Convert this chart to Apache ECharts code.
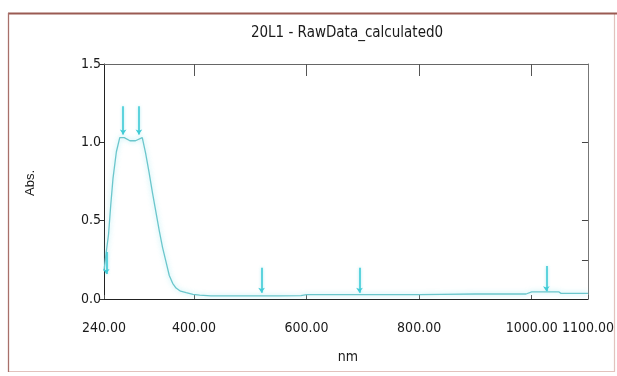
<!DOCTYPE html>
<html>
<head>
<meta charset="utf-8">
<script src="https://cdn.jsdelivr.net/npm/echarts@6/dist/echarts.min.js"></script>
<style>
html,body{margin:0;padding:0;background:#fff;}
#chart{width:617px;height:376px;}
</style>
</head>
<body>
<div id="chart"></div>
<script>
// ---- data ----
const titleText = '20L1 - RawData_calculated0';
const xName = 'nm';
const yName = 'Abs.';
const wavelengths = [240, 244, 248, 252, 256, 262, 268, 276, 286, 296, 308, 314, 320, 326, 333, 338, 344, 350, 356, 362, 368, 376, 386, 398, 410, 430, 450, 500, 550, 590, 600, 700, 800, 840, 900, 990, 1000, 1048, 1052, 1100];
const absorbance  = [0.18, 0.30, 0.41, 0.60, 0.77, 0.94, 1.03, 1.03, 1.01, 1.01, 1.03, 0.93, 0.81, 0.68, 0.54, 0.44, 0.33, 0.24, 0.15, 0.10, 0.07, 0.05, 0.04, 0.03, 0.025, 0.02, 0.02, 0.02, 0.02, 0.022, 0.028, 0.028, 0.028, 0.03, 0.032, 0.032, 0.046, 0.046, 0.036, 0.036];
const xTickValues = [240, 400, 600, 800, 1000, 1100];
const xTopTickValues = [400, 600, 800, 1000];
const yTickValues = [0, 0.5, 1.0, 1.5];
const yRightTickValues = [0.25, 0.5, 1.0];
// peak-pick arrows: wavelength, arrow top, arrow tip
const markerNm     = [244, 274, 302, 520, 694, 1026];
const markerTop    = [0.30, 1.23, 1.23, 0.20, 0.20, 0.21];
const markerBottom = [0.16, 1.05, 1.05, 0.04, 0.04, 0.05];

const FONT = "'Liberation Sans Narrow', 'DejaVu Sans Condensed', 'Liberation Sans', Arial, sans-serif";
const chart = echarts.init(document.getElementById('chart'), null, {renderer: 'canvas'});

const lineData = wavelengths.map((w, i) => [w, absorbance[i]]);
const arrowData = markerNm.map((w, i) => [
  {coord: [w, markerTop[i]]},
  {coord: [w, markerBottom[i]]}
]);

const option = {
  backgroundColor: '#ffffff',
  animation: false,
  grid: {left: 104, right: 25, top: 64, bottom: 77, containLabel: false},
  xAxis: [{
    type: 'value', min: 240, max: 1100,
    axisLine: {show: true, onZero: false, lineStyle: {color: '#222', width: 1}},
    axisTick: {show: true, inside: true, length: 4, lineStyle: {color: '#555'}, customValues: xTickValues},
    axisLabel: {show: true, margin: 22, color: '#1a1a1a', fontFamily: FONT, fontSize: 14,
      customValues: xTickValues, formatter: v => v.toFixed(2)},
    splitLine: {show: false}
  }, {
    type: 'value', min: 240, max: 1100, position: 'top',
    axisLine: {show: true, onZero: false, lineStyle: {color: '#666', width: 1}},
    axisTick: {show: true, inside: true, length: 12, lineStyle: {color: '#555'}, customValues: xTopTickValues},
    axisLabel: {show: false},
    splitLine: {show: false}
  }],
  yAxis: [{
    type: 'value', min: 0, max: 1.5,
    axisLine: {show: true, onZero: false, lineStyle: {color: '#222', width: 1}},
    axisTick: {show: true, inside: false, length: 4, lineStyle: {color: '#333'}, customValues: yTickValues},
    minorTick: {show: false},
    axisLabel: {show: true, margin: 3, color: '#1a1a1a', fontFamily: FONT, fontSize: 14,
      customValues: yTickValues, formatter: v => v.toFixed(1)},
    splitLine: {show: false}
  }, {
    type: 'value', min: 0, max: 1.5, position: 'right',
    axisLine: {show: true, onZero: false, lineStyle: {color: '#777', width: 1}},
    axisTick: {show: true, inside: true, length: 6, lineStyle: {color: '#444'}, customValues: yRightTickValues},
    axisLabel: {show: false},
    splitLine: {show: false}
  }],
  series: [{
    type: 'line',
    data: lineData,
    showSymbol: false,
    symbol: 'none',
    lineStyle: {color: '#6bc6cc', width: 1.3, shadowColor: 'rgba(130,225,235,0.8)', shadowBlur: 5},
    markLine: {
      silent: true,
      symbol: ['none', 'arrow'],
      symbolSize: 5,
      label: {show: false},
      itemStyle: {color: '#3fcbd6'},
      lineStyle: {color: '#3fcbd6', width: 1.6, type: 'solid', shadowColor: 'rgba(120,225,235,0.7)', shadowBlur: 3},
      data: arrowData
    }
  }],
  graphic: [
    {type: 'rect', silent: true, z: -1,
      shape: {x: 8.5, y: 13.5, width: 606, height: 358},
      style: {fill: 'none', stroke: '#e2c2bd', lineWidth: 1.2}},
    {type: 'line', silent: true,
      shape: {x1: 8, y1: 13.5, x2: 617, y2: 13.5},
      style: {stroke: '#9a5a52', lineWidth: 2}},
    {type: 'line', silent: true,
      shape: {x1: 8.5, y1: 13, x2: 8.5, y2: 372},
      style: {stroke: '#a8706a', lineWidth: 1.2}},
    {type: 'text', silent: true,
      style: {text: titleText, x: 347, y: 33, textAlign: 'center', textVerticalAlign: 'middle', verticalAlign: 'middle',
        fontFamily: FONT, fontSize: 15, fill: '#1a1a1a'}},
    {type: 'text', silent: true, rotation: Math.PI / 2, x: 30, y: 183,
      style: {text: yName, x: 0, y: 0, textAlign: 'center', textVerticalAlign: 'middle', verticalAlign: 'middle',
        fontFamily: "'Liberation Sans', Arial, sans-serif", fontSize: 13, fill: '#1a1a1a'}},
    {type: 'text', silent: true,
      style: {text: xName, x: 348, y: 357, textAlign: 'center', textVerticalAlign: 'middle', verticalAlign: 'middle',
        fontFamily: FONT, fontSize: 14, fill: '#1a1a1a'}}
  ]
};
chart.setOption(option);
</script>
</body>
</html>
